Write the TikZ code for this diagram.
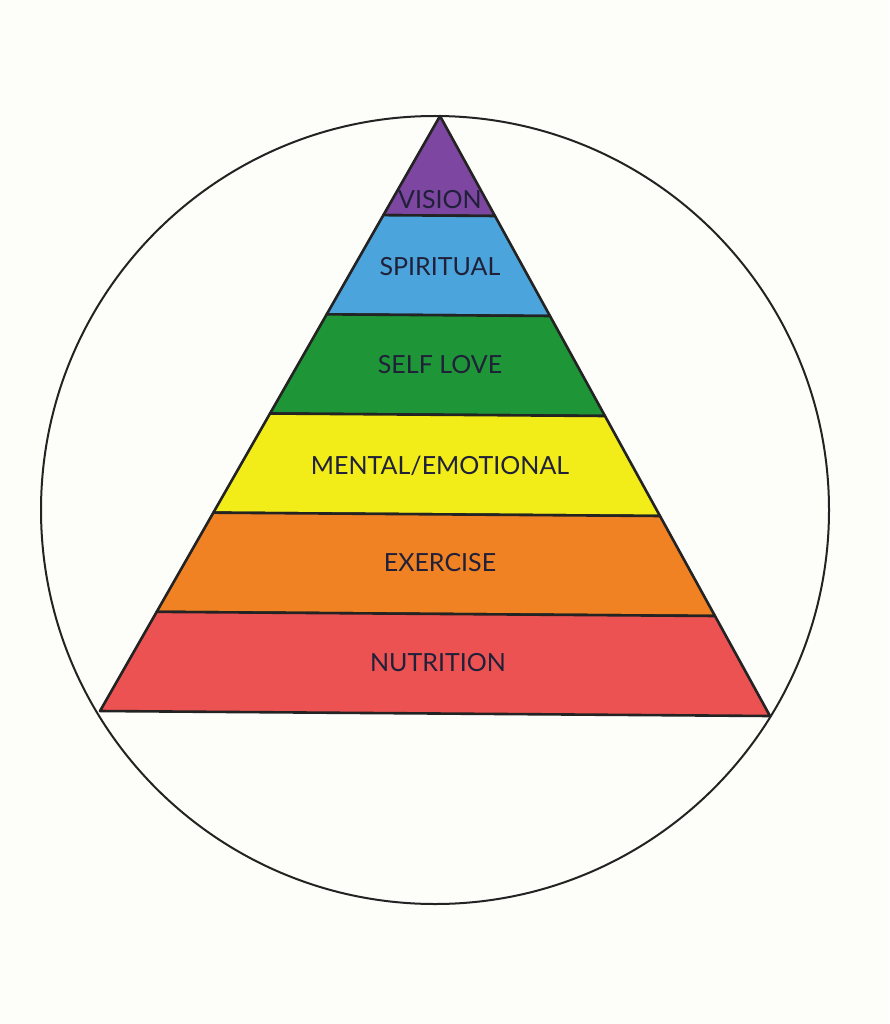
\documentclass[tikz,border=0pt]{standalone}
\usepackage{fontspec}
\setmainfont{Lato}
\usetikzlibrary{calc}
\definecolor{vis}{RGB}{125,70,160}
\definecolor{spi}{RGB}{75,165,220}
\definecolor{slf}{RGB}{30,150,55}
\definecolor{men}{RGB}{242,236,25}
\definecolor{exe}{RGB}{240,130,35}
\definecolor{nut}{RGB}{236,82,82}
\definecolor{ink}{RGB}{35,35,35}
\definecolor{paper}{RGB}{253,253,250}
\begin{document}
\begin{tikzpicture}[x=1pt,y=-1pt,
  band/.style={draw=ink,line width=2.6pt,line join=round},
  lbl/.style={font=\fontsize{25}{27}\selectfont,text=ink!90!blue,inner sep=0pt}]
\fill[paper] (0,0) rectangle (889,1024);
\useasboundingbox (0,0) rectangle (889,1024);
\draw[ink,line width=2pt] (435,510) circle[radius=394];
% corners of the pyramid
\coordinate (A) at (440,116);
\coordinate (BL) at (100,711);
\coordinate (BR) at (770,716);
\foreach \k in {0,...,6}{
  \coordinate (l\k) at ($(A)!\k/6!(BL)$);
  \coordinate (r\k) at ($(A)!\k/6!(BR)$);
}
% bands from top to bottom
\foreach \c [count=\i from 0, evaluate=\i as \j using int(\i+1)] in {vis,spi,slf,men,exe,nut}
  \filldraw[band,fill=\c] (l\i) -- (r\i) -- (r\j) -- (l\j) -- cycle;
\node[lbl] (vision) at (440,200) {VISION};
\node[lbl] (spiritual) at (440,267) {SPIRITUAL};
\node[lbl] (selflove) at (440,365) {SELF LOVE};
\node[lbl] (mental) at (440,466) {MENTAL/EMOTIONAL};
\node[lbl] (exercise) at (440,563) {EXERCISE};
\node[lbl] (nutrition) at (438,663) {NUTRITION};
\end{tikzpicture}
\end{document}
